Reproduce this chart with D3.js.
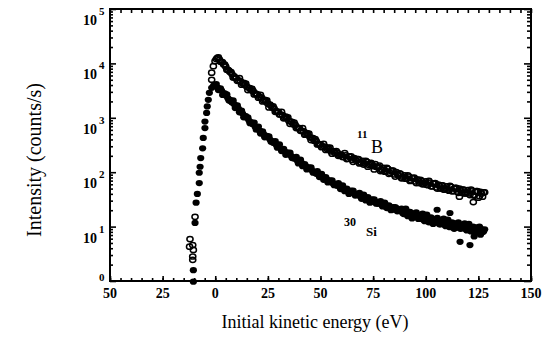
<!DOCTYPE html>
<html><head><meta charset="utf-8">
<script src="https://cdn.jsdelivr.net/npm/d3@7"></script>
<style>body{margin:0;background:#fff}svg{display:block}</style>
</head><body>
<svg id="chart" width="550" height="345"></svg>
<script>
// ---- data ----
const decayEnergy = [1,2,3,4,5,6,7,8,9,10,11,12,13,14,15,16,17,18,19,20,21,22,23,24,25,26,27,28,29,30,31,32,33,34,35,36,37,38,39,40,41,42,43,44,45,46,47,48,49,50,51,52,53,54,55,56,57,58,59,60,61,62,63,64,65,66,67,68,69,70,71,72,73,74,75,76,77,78,79,80,81,82,83,84,85,86,87,88,89,90,91,92,93,94,95,96,97,98,99,100,101,102,103,104,105,106,107,108,109,110,111,112,113,114,115,116,117,118,119,120,121,122,123,124,125,126,127,128];
const bDecay = [12600,11700,10700,9550,8710,7590,6920,6310,5750,5370,4900,4680,4270,4070,3720,3550,3240,3090,2820,2690,2450,2340,2090,2000,1820,1740,1550,1480,1320,1290,1150,1120,1000,977,871,851,759,741,661,646,575,562,501,490,437,427,380,372,331,324,295,295,269,269,240,245,224,229,204,209,191,204,178,191,170,182,162,174,151,162,145,155,135,148,129,141,123,132,110,120,105,115,97.7,107,91.2,100,87.1,93.3,77.6,87.1,75.9,83.2,70.8,77.6,67.6,74.1,63.1,69.2,60.3,67.6,57.5,64.6,55.0,61.7,52.5,58.9,50.1,57.5,47.9,55.0,45.7,53.7,44.7,51.3,43.7,50.1,41.7,47.9,40.7,46.8,38.0,45.7,37.2,44.7,33.9,43.7,35.5,42.7];
const siDecay = [3630,3390,3160,2820,2570,2290,2140,1910,1780,1590,1480,1320,1200,1070,1000,891,832,759,676,646,589,550,501,457,437,398,372,347,316,302,275,263,240,229,214,200,186,178,162,155,148,135,129,120,115,107,102,93.3,91.2,85.1,81.3,75.9,74.1,67.6,66.1,61.7,60.3,56.2,55.0,52.5,49.0,49.0,44.7,44.7,41.7,40.7,38.9,38.0,35.5,35.5,33.1,33.1,30.9,30.9,28.8,28.8,26.9,26.9,25.1,25.7,23.4,24.0,21.9,22.4,20.4,21.9,19.5,20.0,17.8,19.1,16.6,18.6,15.5,17.4,15.1,16.6,13.8,15.8,13.2,14.8,12.6,14.1,12.0,13.5,12.0,13.2,11.0,12.6,10.7,12.0,10.0,11.7,9.77,11.2,9.55,11.0,9.33,10.5,8.91,10.2,8.71,9.77,8.51,9.55,8.32,9.33,7.94,8.91];
// second sweep, taken half-way between the first sweep's energies
const decayEnergy2 = [0.5,1.5,2.5,3.5,4.5,5.5,6.5,7.5,8.5,9.5,10.5,11.5,12.5,13.5,14.5,15.5,16.5,17.5,18.5,19.5,20.5,21.5,22.5,23.5,24.5,25.5,26.5,27.5,28.5,29.5,30.5,31.5,32.5,33.5,34.5,35.5,36.5,37.5,38.5,39.5,40.5,41.5,42.5,43.5,44.5,45.5,46.5,47.5,48.5,49.5,50.5,51.5,52.5,53.5,54.5,55.5,56.5,57.5,58.5,59.5,60.5,61.5,62.5,63.5,64.5,65.5,66.5,67.5,68.5,69.5,70.5,71.5,72.5,73.5,74.5,75.5,76.5,77.5,78.5,79.5,80.5,81.5,82.5,83.5,84.5,85.5,86.5,87.5,88.5,89.5,90.5,91.5,92.5,93.5,94.5,95.5,96.5,97.5,98.5,99.5,100.5,101.5,102.5,103.5,104.5,105.5,106.5,107.5,108.5,109.5,110.5,111.5,112.5,113.5,114.5,115.5,116.5,117.5,118.5,119.5,120.5,121.5,122.5,123.5,124.5,125.5,126.5,127.5];
const bDecay2 = [12000,12900,10700,10500,9550,7670,7410,6920,5500,5370,4790,5370,4070,4370,4270,3240,3470,3390,2690,2690,2340,2630,2000,2140,2090,1550,1660,1620,1290,1290,1150,1290,977,1050,1020,776,832,813,646,646,575,646,490,525,513,389,417,407,324,324,288,331,257,282,282,219,240,245,200,209,191,224,174,195,195,155,174,174,145,148,138,162,126,141,141,112,126,126,105,110,102,120,93.3,105,107,83.2,93.3,95.5,77.6,81.3,75.9,87.1,69.2,77.6,79.4,63.1,70.8,72.4,60.3,63.1,58.9,69.2,55.0,61.7,63.1,50.1,56.2,57.5,47.9,50.1,47.9,56.2,44.7,50.1,51.3,41.7,46.8,47.9,40.7,42.7,40.7,47.9,38.0,43.7,44.7,36.3,40.7,42.7];
const siDecay2 = [4170,3240,3470,2630,2820,2690,2090,2000,2090,1510,1700,1260,1350,1020,1070,1020,794,776,813,603,692,513,562,437,468,457,363,347,372,282,324,245,269,209,229,229,182,178,191,145,170,129,141,112,123,123,97.7,97.7,105,81.3,93.3,72.4,81.3,64.6,70.8,70.8,57.5,57.5,63.1,49.0,57.5,44.7,50.1,39.8,45.7,45.7,37.2,38.0,41.7,32.4,38.9,30.2,34.7,27.5,31.6,31.6,26.3,26.3,29.5,23.4,27.5,21.9,24.5,20.0,22.9,22.9,19.1,19.5,21.4,17.0,21.4,15.5,18.6,14.1,17.4,18.2,13.8,14.5,17.4,12.6,16.6,12.0,14.8,11.2,13.8,14.5,11.0,11.5,14.1,10.2,13.5,9.77,12.0,9.12,11.5,12.0,9.12,9.55,11.5,8.51,11.2,8.13,10.0,7.76,9.55,10.0,7.76,8.13];
const siRiseEnergy = [-10.4,-10.4,-9.6,-9.1,-8.5,-7.6,-7.6,-7.2,-6.9,-6.0,-5.7,-4.9,-4.9,-4.1,-3.8,-3.3,-2.8,-1.7,-0.8,0];
const siRiseIntensity = [0.97,1.58,11.7,27.5,39.8,63.1,97.7,126,182,275,427,646,851,1230,1620,2140,2880,3550,3890,3980];
const siExtraEnergy = [105.4,111.5,116.3,121.0,123,126];
const siExtraIntensity = [20.4,17.8,5.25,4.57,6.61,7.08];
const bRiseEnergy = [-12.2,-12.0,-10.7,-10.4,-10.7,-10.7,-9.6,-1.7,-1.7,-0.9,-0.1];
const bRiseIntensity = [4.27,5.89,4.57,3.72,2.82,2.45,15.1,5010,6760,8910,11000];
const bExtraEnergy = [116,122.6];
const bExtraIntensity = [35.5,28.2];

const xTickValues = [-50,-25,0,25,50,75,100,125,150];
const xTickLabels = ["50","25","0","25","50","75","100","125","150"];
const yDecades = [1,10,100,1000,10000,100000];
const yExponents = ["0","1","2","3","4","5"];

// ---- chart ----
const svg = d3.select("#chart");
const L = 110, R = 531, T = 9, B = 281;
const x = d3.scaleLinear().domain([-50,150]).range([L,R]);
const y = d3.scaleLog().domain([1,1e5]).range([B,T]);

const xMinor = d3.range(-50,151,5);
const yMinor = [];
yDecades.slice(0,-1).forEach(d => { for (let k=2;k<=9;k++) yMinor.push(d*k); });

const serif = "'Liberation Serif','Times New Roman',serif";

function styleAxis(g){ g.select(".domain").remove(); g.selectAll("line").attr("stroke","#000").attr("stroke-width",1.6); }

svg.append("g").attr("transform",`translate(0,${B})`).call(d3.axisBottom(x).tickValues(xMinor).tickSize(-3).tickFormat("")).call(styleAxis);
svg.append("g").attr("transform",`translate(0,${B})`).call(d3.axisBottom(x).tickValues(xTickValues).tickSize(-5).tickFormat("")).call(styleAxis);
svg.append("g").attr("transform",`translate(0,${T})`).call(d3.axisTop(x).tickValues(xMinor).tickSize(-4).tickFormat("")).call(styleAxis);
svg.append("g").attr("transform",`translate(${L},0)`).call(d3.axisLeft(y).tickValues(yMinor).tickSize(-3).tickFormat("")).call(styleAxis);
svg.append("g").attr("transform",`translate(${L},0)`).call(d3.axisLeft(y).tickValues(yDecades).tickSize(-6).tickFormat("")).call(styleAxis);
svg.append("g").attr("transform",`translate(${R},0)`).call(d3.axisRight(y).tickValues(yMinor).tickSize(-4).tickFormat("")).call(styleAxis);
svg.append("g").attr("transform",`translate(${R},0)`).call(d3.axisRight(y).tickValues(yDecades).tickSize(-7).tickFormat("")).call(styleAxis);

svg.append("rect").attr("x",L).attr("y",T).attr("width",R-L).attr("height",B-T)
  .attr("fill","none").attr("stroke","#000").attr("stroke-width",2);

// x tick labels
svg.append("g").selectAll("text").data(xTickValues).join("text")
  .attr("x",d=>x(d)).attr("y",298).attr("text-anchor","middle")
  .attr("font-family",serif).attr("font-weight","bold").attr("font-size",14)
  .text((d,i)=>xTickLabels[i]);

// y tick labels (10 with superscript exponent)
const yl = svg.append("g");
yDecades.forEach((d,i) => {
  const ty = y(d);
  if (i > 0) {
    yl.append("text").attr("x",97).attr("y",ty+16).attr("text-anchor","end")
      .attr("font-family",serif).attr("font-weight","bold").attr("font-size",14).text("10");
    yl.append("text").attr("x",99).attr("y",ty+6)
      .attr("font-family",serif).attr("font-weight","bold").attr("font-size",11).text(yExponents[i]);
  } else {
    yl.append("text").attr("x",99).attr("y",ty)
      .attr("font-family",serif).attr("font-weight","bold").attr("font-size",11).text(yExponents[i]);
  }
});

// axis titles
svg.append("text").attr("x",(222+408)/2).attr("y",328).attr("text-anchor","middle")
  .attr("font-family",serif).attr("font-size",18).text("Initial kinetic energy (eV)");
svg.append("text").attr("transform","translate(41,160) rotate(-90)").attr("text-anchor","middle")
  .attr("font-family",serif).attr("font-size",20).text("Intensity (counts/s)");

// data marks
const pairs = (es, vs) => es.map((e,i)=>[e,vs[i]]);
const siPts = [].concat(pairs(decayEnergy,siDecay), pairs(decayEnergy2,siDecay2),
  pairs(siRiseEnergy,siRiseIntensity), pairs(siExtraEnergy,siExtraIntensity));
const bPts = [].concat(pairs(decayEnergy,bDecay), pairs(decayEnergy2,bDecay2),
  pairs(bRiseEnergy,bRiseIntensity), pairs(bExtraEnergy,bExtraIntensity));

svg.append("g").selectAll("ellipse").data(siPts).join("ellipse")
  .attr("cx",d=>x(d[0])).attr("cy",d=>y(d[1])).attr("rx",3.6).attr("ry",3.1).attr("fill","#000");
svg.append("g").selectAll("ellipse").data(bPts).join("ellipse")
  .attr("cx",d=>x(d[0])).attr("cy",d=>y(d[1])).attr("rx",3.1).attr("ry",2.6)
  .attr("fill","none").attr("stroke","#000").attr("stroke-width",1.5);

// series labels
svg.append("text").attr("x",357).attr("y",138).attr("font-family",serif).attr("font-weight","bold").attr("font-size",11).text("11");
svg.append("text").attr("x",371).attr("y",153).attr("font-family",serif).attr("font-size",18).text("B");
svg.append("text").attr("x",344).attr("y",226).attr("font-family",serif).attr("font-weight","bold").attr("font-size",12).text("30");
svg.append("text").attr("x",366).attr("y",236).attr("font-family",serif).attr("font-weight","bold").attr("font-size",13).text("Si");
</script>
</body></html>
